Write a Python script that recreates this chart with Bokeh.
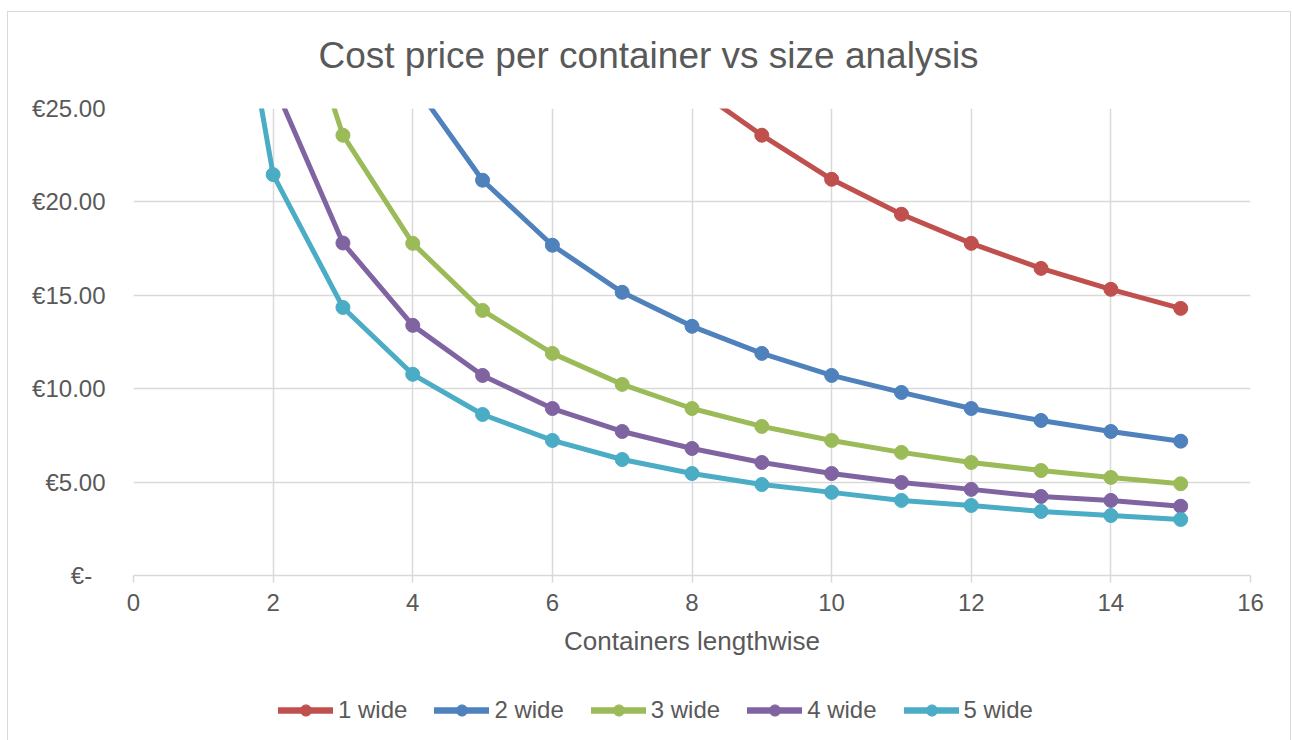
from bokeh.plotting import figure
from bokeh.layouts import column
from bokeh.models import FixedTicker, Legend, LegendItem, Label
from bokeh.embed import file_html
from bokeh.resources import INLINE

# Containers lengthwise (x) and cost price per container (EUR) for each width
lengths = [1, 2, 3, 4, 5, 6, 7, 8, 9, 10, 11, 12, 13, 14, 15]
wide_1 = [212.0, 106.0, 70.7, 53.0, 42.4, 35.3, 30.3, 26.2, 23.57, 21.21, 19.34, 17.78, 16.44, 15.32, 14.30]
wide_2 = [106.0, 53.0, 35.3, 26.4, 21.16, 17.68, 15.16, 13.34, 11.89, 10.71, 9.80, 8.94, 8.30, 7.71, 7.19]
wide_3 = [70.7, 35.0, 23.57, 17.78, 14.19, 11.89, 10.23, 8.94, 7.98, 7.23, 6.59, 6.05, 5.62, 5.25, 4.91]
wide_4 = [53.0, 26.4, 17.80, 13.39, 10.71, 8.94, 7.71, 6.80, 6.05, 5.46, 4.98, 4.61, 4.23, 4.02, 3.71]
wide_5 = [42.8, 21.46, 14.35, 10.77, 8.62, 7.23, 6.21, 5.46, 4.87, 4.45, 4.02, 3.75, 3.43, 3.21, 3.00]

series_names = ["1 wide", "2 wide", "3 wide", "4 wide", "5 wide"]
series_colors = ["#C0504D", "#4F81BD", "#9BBB59", "#8064A2", "#4BACC6"]

x_ticks = [0, 2, 4, 6, 8, 10, 12, 14, 16]
y_ticks = [0, 5, 10, 15, 20, 25]
y_tick_labels = ["€-\u00a0\u00a0", "€5.00", "€10.00", "€15.00", "€20.00", "€25.00"]

title_text = "Cost price per container vs size analysis"
x_title = "Containers lengthwise"

FONT = "Liberation Sans"
TEXT = "#595959"
GRID = "#d9d9d9"
BORDER = "1px solid #d9d9d9"


def strip(height, xr=(0, 1), yr=(0, 1)):
    """A bare full-width band used for the heading and the legend."""
    s = figure(width=1282, height=height, x_range=xr, y_range=yr,
               output_backend="svg", toolbar_location=None,
               x_axis_type=None, y_axis_type=None, min_border=0)
    s.title = None
    s.outline_line_color = None
    s.xgrid.visible = False
    s.ygrid.visible = False
    s.border_fill_color = "white"
    s.background_fill_color = "white"
    return s


# heading band
tf = strip(80)
tf.add_layout(Label(x=185, y=37, x_units="screen", y_units="screen",
                    text=title_text, text_align="left",
                    text_baseline="alphabetic", text_font=FONT,
                    text_font_size="37px", text_color=TEXT))

# main chart
p = figure(width=1282, height=588, x_range=(0, 16), y_range=(0, 25),
           output_backend="svg", toolbar_location=None,
           min_border_left=125, min_border_right=40,
           min_border_top=16, min_border_bottom=105)
p.title = None
p.outline_line_color = None
p.background_fill_color = "white"
p.border_fill_color = "white"

# grid
p.xaxis.ticker = FixedTicker(ticks=x_ticks)
p.yaxis.ticker = FixedTicker(ticks=y_ticks)
p.xgrid.grid_line_color = GRID
p.ygrid.grid_line_color = GRID
p.xgrid.grid_line_width = 1.5
p.ygrid.grid_line_width = 1.5

# x axis
xa = p.xaxis[0]
xa.axis_line_color = GRID
xa.axis_line_width = 1.5
xa.major_tick_line_color = GRID
xa.major_tick_line_width = 1.5
xa.major_tick_out = 7
xa.major_tick_in = 0
xa.minor_tick_line_color = None
xa.major_label_standoff = 11
xa.major_label_text_font = FONT
xa.major_label_text_font_size = "24px"
xa.major_label_text_color = TEXT
xa.axis_label = x_title
xa.axis_label_text_font = FONT
xa.axis_label_text_font_size = "26px"
xa.axis_label_text_font_style = "normal"
xa.axis_label_text_color = TEXT
xa.axis_label_standoff = 12

# y axis
ya = p.yaxis[0]
ya.axis_line_color = None
ya.major_tick_line_color = None
ya.minor_tick_line_color = None
ya.major_tick_out = 0
ya.major_tick_in = 0
ya.major_label_standoff = 28
ya.major_label_text_font = FONT
ya.major_label_text_font_size = "24px"
ya.major_label_text_color = TEXT
ya.major_label_overrides = {t: lab for t, lab in zip(y_ticks, y_tick_labels)}

# legend band; its ranges keep the swatch series themselves out of view
lf = strip(60, xr=(100, 101), yr=(100, 101))

# series (later series drawn on top)
items = []
for name, color, vals in zip(series_names, series_colors, [wide_1, wide_2, wide_3, wide_4, wide_5]):
    p.line(lengths, vals, line_color=color, line_width=5,
           line_join="round", line_cap="round")
    p.scatter(lengths, vals, size=14, fill_color=color, line_color=color)
    sw_line = lf.line(lengths, vals, line_color=color, line_width=6.5, line_cap="round")
    sw_dot = lf.scatter(lengths, vals, size=12, fill_color=color, line_color=color)
    items.append(LegendItem(label=name, renderers=[sw_line, sw_dot]))

legend = Legend(items=items, orientation="horizontal", location=(145, 16),
                glyph_width=55, glyph_height=28, label_standoff=5, spacing=27,
                padding=0, margin=0, border_line_color=None,
                background_fill_alpha=0,
                label_text_font=FONT, label_text_font_size="24px",
                label_text_color=TEXT)
lf.add_layout(legend)

layout = column(tf, p, lf, spacing=0, margin=(11, 0, 0, 7),
                styles={"border-top": BORDER, "border-left": BORDER,
                        "border-right": BORDER})

open("out.html", "w").write(file_html(layout, INLINE))
